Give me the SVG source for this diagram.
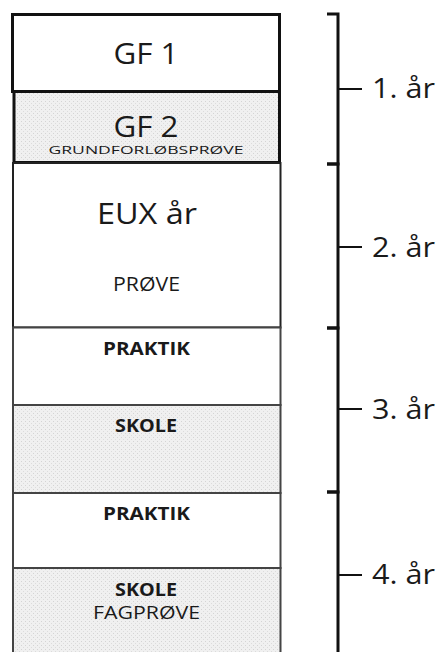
<svg xmlns="http://www.w3.org/2000/svg" width="440" height="652" viewBox="0 0 440 652">
<defs>
<pattern id="dots" width="4" height="4" patternUnits="userSpaceOnUse">
<rect width="4" height="4" fill="#f0f0f0"/>
<rect x="1" y="1" width="1" height="1" fill="#d4d4d4"/>
<rect x="3" y="3" width="1" height="1" fill="#dcdcdc"/>
</pattern>
</defs>
<style>
.t{font-family:"Open Sans","DejaVu Sans",sans-serif;fill:#1a1a1a;text-anchor:middle}
.b{font-weight:bold}
.thick{stroke:#111;stroke-width:3}
.mid{stroke:#222;stroke-width:2}
.gray{stroke:#444;stroke-width:2}
.br{fill:none;stroke:#111;stroke-width:3}
.tick{stroke:#111;stroke-width:2}
</style>
<rect width="440" height="652" fill="#fff"/>
<g id="gf1">
<rect x="12.5" y="14.5" width="267" height="77" fill="#fff" class="thick"/>
<text class="t" x="146" y="64" font-size="29" textLength="65" lengthAdjust="spacingAndGlyphs">GF 1</text>
</g>
<g id="gf2">
<rect x="14" y="91.5" width="265.5" height="71" fill="url(#dots)" class="thick"/>
<text class="t" x="146" y="137" font-size="29" textLength="65" lengthAdjust="spacingAndGlyphs">GF 2</text>
<text class="t" x="146" y="154" font-size="11.5" textLength="195" lengthAdjust="spacingAndGlyphs">GRUNDFORLØBSPRØVE</text>
</g>
<g id="eux">
<rect x="13" y="163" width="267.5" height="164.5" fill="#fff" class="mid"/>
<text class="t" x="147" y="224" font-size="30" textLength="100" lengthAdjust="spacingAndGlyphs">EUX år</text>
<text class="t" x="146.5" y="291" font-size="20" textLength="67" lengthAdjust="spacingAndGlyphs">PRØVE</text>
</g>
<g id="praktik3">
<rect x="13" y="327.5" width="267.5" height="77.5" fill="#fff" class="gray"/>
<text class="t b" x="146.5" y="355" font-size="18" textLength="87" lengthAdjust="spacingAndGlyphs">PRAKTIK</text>
</g>
<g id="skole3">
<rect x="13" y="405" width="267.5" height="88" fill="url(#dots)" class="gray"/>
<text class="t b" x="146" y="432" font-size="18" textLength="62" lengthAdjust="spacingAndGlyphs">SKOLE</text>
</g>
<g id="praktik4">
<rect x="13" y="493" width="267.5" height="75" fill="#fff" class="gray"/>
<text class="t b" x="146.5" y="520" font-size="18" textLength="87" lengthAdjust="spacingAndGlyphs">PRAKTIK</text>
</g>
<g id="skole4">
<rect x="13" y="568" width="267.5" height="90" fill="url(#dots)" class="gray"/>
<text class="t b" x="146" y="596" font-size="18" textLength="62" lengthAdjust="spacingAndGlyphs">SKOLE</text>
<text class="t" x="146.5" y="619" font-size="18" textLength="107" lengthAdjust="spacingAndGlyphs">FAGPRØVE</text>
</g>
<g id="connectors">
<path class="br" d="M327 14 H338 V164 H327"/>
<path class="br" d="M327 164 H338 V328 H327"/>
<path class="br" d="M327 328 H338 V492 H327"/>
<path class="br" d="M327 492 H338 V652"/>
<line class="tick" x1="338" y1="89" x2="362" y2="89"/>
<line class="tick" x1="338" y1="247" x2="362" y2="247"/>
<line class="tick" x1="338" y1="409" x2="362" y2="409"/>
<line class="tick" x1="338" y1="575" x2="362" y2="575"/>
</g>
<g id="labels">
<text class="t" x="403.5" y="98" font-size="28" textLength="63" lengthAdjust="spacingAndGlyphs">1. år</text>
<text class="t" x="403.5" y="257" font-size="28" textLength="63" lengthAdjust="spacingAndGlyphs">2. år</text>
<text class="t" x="403.5" y="419" font-size="28" textLength="63" lengthAdjust="spacingAndGlyphs">3. år</text>
<text class="t" x="403.5" y="584" font-size="28" textLength="63" lengthAdjust="spacingAndGlyphs">4. år</text>
</g>
</svg>
